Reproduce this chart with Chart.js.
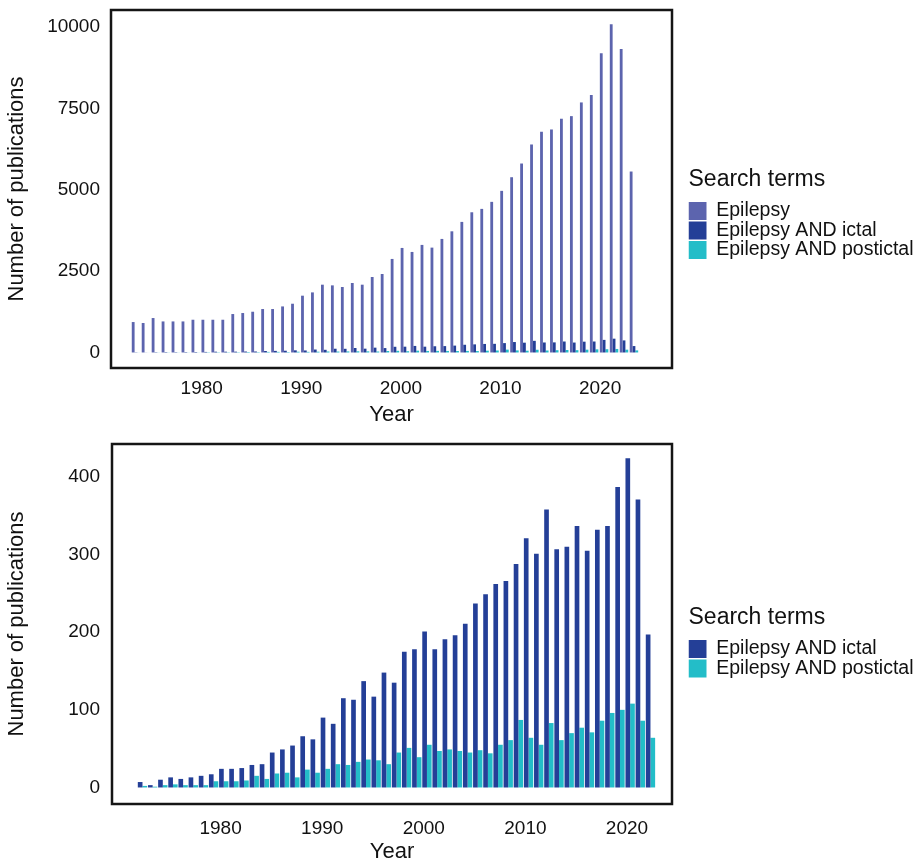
<!DOCTYPE html>
<html>
<head>
<meta charset="utf-8">
<title>Epilepsy publications by year</title>
<script src="https://cdn.jsdelivr.net/npm/chart.js@4.4.1/dist/chart.umd.min.js"></script>
<style>
  html, body { margin: 0; padding: 0; background: #fff; }
  .wrap { width: 915px; height: 860px; position: relative; }
  canvas { display: block; }
</style>
</head>
<body>
<div class="wrap">
  <canvas id="chart-all" width="915" height="430"></canvas>
  <canvas id="chart-ictal" width="915" height="430"></canvas>
</div>

<script>
// Dados (número de publicações por ano)
const years = [
  1973, 1974, 1975, 1976, 1977, 1978, 1979, 1980, 1981, 1982,
  1983, 1984, 1985, 1986, 1987, 1988, 1989, 1990, 1991, 1992,
  1993, 1994, 1995, 1996, 1997, 1998, 1999, 2000, 2001, 2002,
  2003, 2004, 2005, 2006, 2007, 2008, 2009, 2010, 2011, 2012,
  2013, 2014, 2015, 2016, 2017, 2018, 2019, 2020, 2021, 2022,
  2023
];

const epilepsy = [
  935, 905, 1058, 954, 954, 954, 1006, 1006, 1006, 1006,
  1181, 1212, 1252, 1335, 1335, 1415, 1498, 1745, 1846, 2083,
  2062, 2012, 2135, 2083, 2320, 2412, 2874, 3212, 3089, 3305,
  3222, 3489, 3723, 4012, 4308, 4412, 4628, 4966, 5385, 5806,
  6391, 6782, 6852, 7182, 7262, 7683, 7908, 9191, 10083, 9323,
  5560
];

const ictal = [
  7, 3, 10, 13, 11, 13, 15, 17, 24, 24,
  25, 29, 30, 45, 49, 54, 66, 62, 90, 82,
  115, 113, 137, 117, 148, 135, 175, 178, 201, 178,
  191, 196, 211, 237, 249, 262, 266, 288, 321, 301,
  358, 307, 310, 337, 305, 332, 337, 387, 424, 371,
  197
];

const postictal = [
  2, 1, 3, 4, 3, 3, 3, 8, 8, 8,
  9, 15, 11, 18, 19, 13, 23, 19, 24, 30,
  29, 33, 36, 35, 30, 45, 51, 39, 55, 47,
  49, 47, 45, 48, 44, 55, 61, 87, 64, 55,
  83, 61, 70, 77, 71, 86, 96, 100, 108, 86,
  64
];

const yearTicks = [1980, 1990, 2000, 2010, 2020];
const countTicksAll = [0, 2500, 5000, 7500, 10000];
const countTicksIctal = [0, 100, 200, 300, 400];

const colors = {
  epilepsy: '#5c64ae',
  ictal: '#243f97',
  postictal: '#23bdc8'
};

const FONT = "'Liberation Sans', Arial, sans-serif";
const TEXT = '#111111';

Chart.defaults.font.family = FONT;
Chart.defaults.color = TEXT;

// moldura preta em volta da área do gráfico
const framePlugin = {
  id: 'frame',
  afterDatasetsDraw(chart) {
    const { ctx, chartArea: a } = chart;
    ctx.save();
    ctx.lineWidth = 2.5;
    ctx.strokeStyle = '#151515';
    ctx.strokeRect(a.left, a.top, a.right - a.left, a.bottom - a.top);
    ctx.restore();
  }
};

function toPoints(values) {
  return values.map((v, i) => ({ x: years[i], y: v }));
}

function makeChart(id, datasets, cfg) {
  return new Chart(document.getElementById(id), {
    type: 'bar',
    data: { datasets },
    plugins: [framePlugin],
    options: {
      responsive: false,
      animation: false,
      layout: { padding: { top: cfg.top, left: 0, right: 0, bottom: cfg.bottom } },
      datasets: {
        bar: {
          categoryPercentage: cfg.catPct,
          barPercentage: 1,
          borderWidth: 0
        }
      },
      plugins: {
        tooltip: { enabled: false },
        legend: {
          position: 'right',
          align: 'center',
          maxWidth: 226.5,
          title: {
            display: true,
            text: 'Search terms',
            position: 'start',
            color: TEXT,
            font: { size: 23, family: FONT },
            padding: { top: 0, bottom: 5.15 }
          },
          labels: {
            boxWidth: 18,
            boxHeight: 18,
            padding: 0,
            color: TEXT,
            font: { size: 19.5, family: FONT }
          }
        }
      },
      scales: {
        x: {
          type: 'linear',
          offset: false,
          min: cfg.xMin,
          max: cfg.xMax,
          grid: { display: false, drawTicks: false },
          border: { display: false },
          afterBuildTicks(s) { s.ticks = yearTicks.map(v => ({ value: v })); },
          afterFit(s) { s.height = cfg.xHeight; },
          ticks: {
            padding: cfg.xPad,
            labelOffset: cfg.labelOffset,
            maxRotation: 0,
            font: { size: 19 },
            callback: v => String(v)
          },
          title: {
            display: true,
            text: 'Year',
            font: { size: 22, lineHeight: 1 },
            padding: { top: 0, bottom: cfg.yearPad }
          }
        },
        y: {
          type: 'linear',
          min: cfg.yMin,
          max: cfg.yMax,
          grid: { display: false, drawTicks: true, tickLength: cfg.yPad },
          border: { display: false },
          afterBuildTicks(s) { s.ticks = cfg.yTicks.map(v => ({ value: v })); },
          afterFit(s) { s.width = cfg.yWidth; },
          ticks: {
            padding: 0,
            font: { size: 19, lineHeight: 1 },
            callback: v => String(v)
          },
          title: {
            display: true,
            text: 'Number of publications',
            font: { size: 22, lineHeight: 1 },
            padding: { top: 6, bottom: 0 }
          }
        },
        // espaço vazio entre a moldura e a legenda
        gap: {
          type: 'linear',
          axis: 'y',
          position: 'right',
          display: true,
          grid: { display: false, drawTicks: false },
          border: { display: false },
          ticks: { display: false },
          afterFit(s) { s.width = 16.5; }
        }
      }
    }
  });
}

// Painel de cima: três termos de busca
makeChart('chart-all', [
  { label: 'Epilepsy', data: toPoints(epilepsy), backgroundColor: colors.epilepsy },
  { label: 'Epilepsy AND ictal', data: toPoints(ictal), backgroundColor: colors.ictal },
  { label: 'Epilepsy AND postictal', data: toPoints(postictal), backgroundColor: colors.postictal }
], {
  top: 10, bottom: 11.75, xHeight: 50.25, yWidth: 111,
  xMin: 1970.49, xMax: 2026.82,
  yMin: -477, yMax: 10523, yTicks: countTicksAll,
  catPct: 0.85, xPad: 9, yPad: 11, labelOffset: -4, yearPad: -7.75
});

// Painel de baixo: só ictal e postictal
makeChart('chart-ictal', [
  { label: 'Epilepsy AND ictal', data: toPoints(ictal), backgroundColor: colors.ictal },
  { label: 'Epilepsy AND postictal', data: toPoints(postictal), backgroundColor: colors.postictal }
], {
  top: 14, bottom: 19.25, xHeight: 36.75, yWidth: 112,
  xMin: 1970.0, xMax: 2025.12,
  yMin: -21.3, yMax: 442.5, yTicks: countTicksIctal,
  catPct: 0.92, xPad: 13, yPad: 12, labelOffset: 7, yearPad: -22.25
});
</script>
</body>
</html>
